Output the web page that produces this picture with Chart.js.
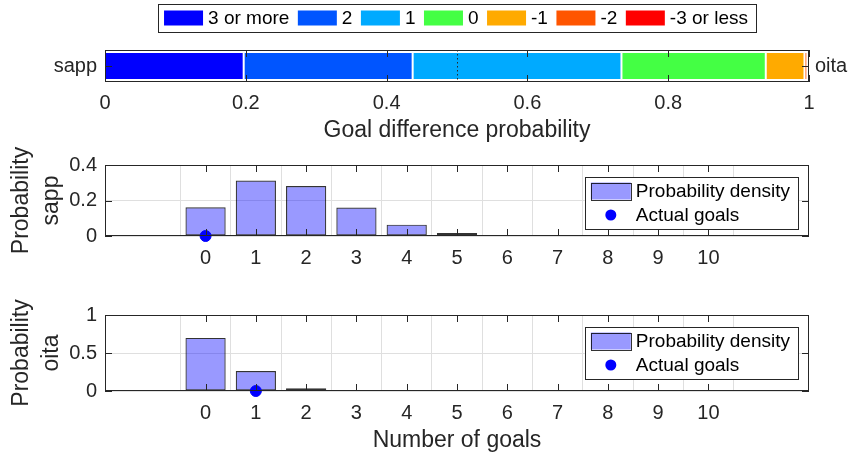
<!DOCTYPE html>
<html>
<head>
<meta charset="utf-8">
<script src="https://cdn.jsdelivr.net/npm/chart.js@4.4.1/dist/chart.umd.min.js"></script>
<style>
    html, body { margin: 0; padding: 0; background: #fff; overflow: hidden; }
    .wrap { position: absolute; left: 0; width: 853px; }
    #diff-wrap { top: 0; height: 145px; }
    #sapp-wrap { top: 145px; height: 125px; }
    #oita-wrap { top: 290px; height: 169px; }
</style>
</head>
<body>
<div class="wrap" id="diff-wrap"><canvas id="diff-chart"></canvas></div>
<div class="wrap" id="sapp-wrap"><canvas id="sapp-chart"></canvas></div>
<div class="wrap" id="oita-wrap"><canvas id="oita-chart"></canvas></div>
<script>
const FONT = "'Liberation Sans', Arial, Helvetica, sans-serif";
const INK = '#262626';
const GRID = '#dfdfdf';

// goal difference (home - away)
const homeTeam = 'sapp';
const awayTeam = 'oita';
const diffLabels = ['3 or more', '2', '1', '0', '-1', '-2', '-3 or less'];
const diffProb = [0.197, 0.240, 0.2966, 0.205, 0.055, 0.004, 0.0024];
const diffColors = ['#0000ff', '#0055ff', '#00aaff', '#44ff44', '#ffaa00', '#ff5500', '#ff0000'];
const diffTicks = [0, 0.2, 0.4, 0.6, 0.8, 1];

// goals per team
const goals = [0, 1, 2, 3, 4, 5, 6, 7, 8, 9, 10];
const sappProb = [0.162, 0.312, 0.281, 0.160, 0.064, 0.017, 0.004, 0.001, 0.0002, 0, 0];
const oitaProb = [0.699, 0.262, 0.035, 0.004, 0.0003, 0, 0, 0, 0, 0, 0];
const sappActual = 0;
const oitaActual = 1;
const sappYTicks = [0, 0.2, 0.4];
const oitaYTicks = [0, 0.5, 1];

Chart.defaults.font.family = FONT;
Chart.defaults.color = INK;

const TICK_LEN = 7;
const plainTick = v => String(v);

// matlab style box: inward ticks on all four sides, optional dotted marker line
const axesBox = {
    id: 'axesBox',
    afterDatasetsDraw(chart, args, opts) {
        const { ctx, chartArea: a, scales } = chart;
        ctx.save();
        ctx.strokeStyle = INK;
        ctx.lineWidth = 1;
        if (opts.dotAt != null) {
            const px = Math.round(scales.x.getPixelForValue(opts.dotAt)) + 0.5;
            ctx.setLineDash([1.5, 2.5]);
            ctx.beginPath();
            ctx.moveTo(px, a.top);
            ctx.lineTo(px, a.bottom);
            ctx.stroke();
            ctx.setLineDash([]);
        }
        ctx.beginPath();
        scales.x.ticks.forEach((t, i) => {
            const px = Math.round(scales.x.getPixelForTick(i)) + 0.5;
            ctx.moveTo(px, a.top); ctx.lineTo(px, a.top + TICK_LEN);
            ctx.moveTo(px, a.bottom); ctx.lineTo(px, a.bottom - TICK_LEN);
        });
        scales.y.ticks.forEach((t, i) => {
            const py = Math.round(scales.y.getPixelForTick(i)) + 0.5;
            ctx.moveTo(a.left, py); ctx.lineTo(a.left + TICK_LEN, py);
            ctx.moveTo(a.right, py); ctx.lineTo(a.right - TICK_LEN, py);
        });
        ctx.stroke();
        ctx.strokeRect(Math.round(a.left) + 0.5, Math.round(a.top) + 0.5, Math.round(a.width) - 1, Math.round(a.height) - 1);
        ctx.restore();
    }
};

// legend with a framed box, built from the datasets
const boxLegend = {
    id: 'boxLegend',
    afterDraw(chart, args, opts) {
        const { ctx, chartArea: a } = chart;
        const sets = chart.data.datasets;
        ctx.save();
        ctx.font = `${opts.size}px ${FONT}`;
        ctx.textBaseline = 'middle';
        ctx.textAlign = 'left';
        const widths = sets.map(d => ctx.measureText(d.label).width);
        const frame = (x, y, w, h) => {
            ctx.fillStyle = '#fff';
            ctx.fillRect(x, y, w, h);
            ctx.strokeStyle = INK;
            ctx.lineWidth = 1;
            ctx.strokeRect(Math.round(x) + 0.5, Math.round(y) + 0.5, Math.round(w), Math.round(h));
        };
        if (opts.horizontal) {
            const sw = 39, sh = 15, gap = 5, step = 8.5, padL = 6, padR = 8;
            const total = padL + widths.reduce((s, w) => s + sw + gap + w, 0) + step * (sets.length - 1) + padR;
            let x = (a.left + a.right) / 2 - total / 2;
            const cy = opts.top + opts.height / 2;
            frame(x, opts.top, total, opts.height);
            x += padL;
            sets.forEach((d, i) => {
                ctx.fillStyle = d.backgroundColor;
                ctx.fillRect(x, cy - sh / 2, sw, sh);
                ctx.fillStyle = '#000';
                ctx.fillText(d.label, x + sw + gap, cy + 1);
                x += sw + gap + widths[i] + step;
            });
        } else {
            const sw = 40, sh = 17, gap = 5, padL = 6, padR = 8, rowH = 24;
            const w = padL + sw + gap + Math.max(...widths) + padR;
            const h = 52;
            const right = a.right - 11;
            const left = right - w;
            const top = a.top + 12;
            frame(left, top, w, h);
            sets.forEach((d, i) => {
                const cy = top + 14 + i * rowH;
                const sx = left + padL;
                if (d.type === 'scatter') {
                    ctx.fillStyle = d.backgroundColor;
                    ctx.beginPath();
                    ctx.arc(sx + sw / 2, cy, 5.5, 0, Math.PI * 2);
                    ctx.fill();
                } else {
                    ctx.fillStyle = d.backgroundColor;
                    ctx.fillRect(sx, cy - sh / 2, sw, sh);
                    ctx.strokeStyle = d.borderColor;
                    ctx.lineWidth = 1;
                    ctx.strokeRect(Math.round(sx) + 0.5, Math.round(cy - sh / 2) + 0.5, sw, sh);
                }
                ctx.fillStyle = '#000';
                ctx.fillText(d.label, sx + sw + gap, cy + 1);
            });
        }
        ctx.restore();
    }
};

new Chart(document.getElementById('diff-chart'), {
    type: 'bar',
    data: {
        labels: [homeTeam],
        datasets: diffLabels.map((lab, i) => ({
            label: lab,
            data: [diffProb[i]],
            backgroundColor: diffColors[i],
            borderColor: '#ffffff',
            borderWidth: 1,
            borderSkipped: false,
            barPercentage: 0.875,
            categoryPercentage: 1
        }))
    },
    options: {
        indexAxis: 'y',
        responsive: true,
        maintainAspectRatio: false,
        animation: false,
        layout: { padding: { top: 50 } },
        plugins: {
            legend: { display: false },
            tooltip: { enabled: false },
            axesBox: { dotAt: 0.5 },
            boxLegend: { horizontal: true, top: 4, height: 28, size: 19 }
        },
        scales: {
            x: {
                stacked: true, min: 0, max: 1,
                afterBuildTicks: s => { s.ticks = diffTicks.map(v => ({ value: v })); },
                afterFit: s => { s.height = 63; },
                grid: { display: false, drawTicks: false },
                border: { display: false },
                ticks: { font: { size: 20 }, padding: 9, maxRotation: 0, callback: plainTick },
                title: { display: true, text: 'Goal difference probability', font: { size: 23 }, padding: { top: 0, bottom: 1 } }
            },
            y: {
                stacked: true,
                afterFit: s => { s.width = 105; },
                grid: { display: false, drawTicks: false },
                border: { display: false },
                ticks: { font: { size: 20 }, padding: 8 }
            },
            y2: {
                type: 'category', labels: [awayTeam], position: 'right', offset: true,
                afterFit: s => { s.width = 44; },
                grid: { display: false, drawTicks: false },
                border: { display: false },
                ticks: { font: { size: 20 }, padding: 6 }
            }
        }
    },
    plugins: [axesBox, boxLegend]
});

function goalsChart(id, team, probs, actual, yTicks, xHeight, padTop, showTitle) {
    return new Chart(document.getElementById(id), {
        type: 'bar',
        data: {
            datasets: [
                {
                    type: 'bar',
                    label: 'Probability density',
                    data: goals.map((g, i) => ({ x: g, y: probs[i] })),
                    backgroundColor: 'rgba(0, 0, 255, 0.4)',
                    borderColor: 'rgba(0, 0, 0, 0.8)',
                    borderWidth: 1.2,
                    borderSkipped: false,
                    barPercentage: 0.8,
                    categoryPercentage: 1,
                    order: 2
                },
                {
                    type: 'scatter',
                    label: 'Actual goals',
                    data: [{ x: actual, y: 0 }],
                    backgroundColor: '#0000ff',
                    borderColor: '#0000ff',
                    pointRadius: 5.5,
                    clip: false,
                    order: 1
                }
            ]
        },
        options: {
            responsive: true,
            maintainAspectRatio: false,
            animation: false,
            layout: { padding: { top: padTop, right: 44 } },
            plugins: {
                legend: { display: false },
                tooltip: { enabled: false },
                axesBox: {},
                boxLegend: { horizontal: false, size: 19 }
            },
            scales: {
                x: {
                    type: 'linear', min: -2, max: 12, offset: false,
                    afterBuildTicks: s => { s.ticks = goals.map(v => ({ value: v })); },
                    afterFit: s => { s.height = xHeight; },
                    grid: { color: GRID, drawTicks: false },
                    border: { display: false },
                    ticks: { font: { size: 20 }, padding: 10, maxRotation: 0, autoSkip: false, callback: plainTick },
                    title: { display: showTitle, text: 'Number of goals', font: { size: 23 }, padding: { top: 0, bottom: 5 } }
                },
                y: {
                    min: yTicks[0], max: yTicks[yTicks.length - 1],
                    afterBuildTicks: s => { s.ticks = yTicks.map(v => ({ value: v })); },
                    afterFit: s => { s.width = 105; },
                    grid: { color: GRID, drawTicks: false },
                    border: { display: false },
                    ticks: { font: { size: 20 }, padding: 8, callback: plainTick },
                    title: { display: true, text: ['Probability', team], font: { size: 23, lineHeight: 1.3 }, padding: { top: 7, bottom: 0 } }
                }
            }
        },
        plugins: [axesBox, boxLegend]
    });
}

goalsChart('sapp-chart', homeTeam, sappProb, sappActual, sappYTicks, 34, 15, false);
goalsChart('oita-chart', awayTeam, oitaProb, oitaActual, oitaYTicks, 68, 25, true);
</script>
</body>
</html>
